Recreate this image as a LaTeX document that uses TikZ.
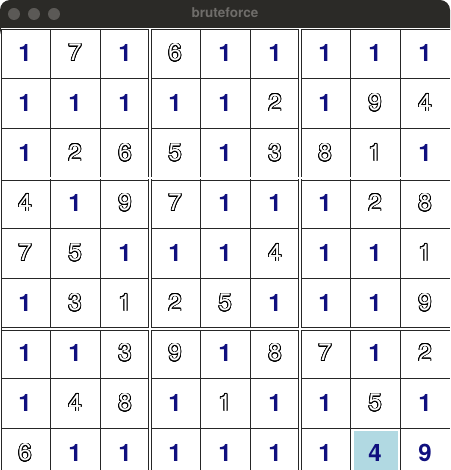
\documentclass[tikz,border=0pt]{standalone}
\usepackage{fontspec}
\setmainfont{TeX Gyre Heros}
\usepackage{contour}
\contourlength{0.75pt}
\contournumber{24}

\definecolor{barcol}{HTML}{2B2A27}
\definecolor{dotcol}{HTML}{5B5956}
\definecolor{titlecol}{HTML}{6F6D6A}
\definecolor{numblue}{HTML}{10107F}
\definecolor{pickcol}{HTML}{B1D9E2}

\newcommand{\hollow}[1]{\contour{black}{\textcolor{white}{#1}}}

\begin{document}
\begin{tikzpicture}[x=1pt, y=-1pt]
\tikzset{ inner sep=0pt, outer sep=0pt,
  fixed/.style={font=\fontsize{24}{24}\selectfont\bfseries, text=numblue},
  guess/.style={font=\fontsize{24}{24}\selectfont},
  gridline/.style={line width=0.9pt, black!85},
}

\useasboundingbox [fill=white] (0,0) rectangle (450,470);

% barra de titulo
\fill [barcol, rounded corners=10pt] (0,0) rectangle (450,40);
\fill [barcol] (0,20) rectangle (450,28);
\fill [white] (1.3,28) rectangle (450,470);
\fill [dotcol] (14,14) circle (6);
\fill [dotcol] (34,14) circle (6);
\fill [dotcol] (54,14) circle (6);
\node [font=\fontsize{13.5}{13.5}\selectfont\bfseries, text=titlecol] (title) at (225,13) {bruteforce};

% celula escolhida
\fill [pickcol] (354,431) rectangle (398,470);

% linhas finas
\draw [gridline] (1.8,29) -- (450,29);
\draw [gridline] (1.8,29) -- (1.8,470);
\draw [gridline] (50,29) -- (50,470);
\draw [gridline] (100,29) -- (100,470);
\draw [gridline] (200,29) -- (200,470);
\draw [gridline] (250,29) -- (250,470);
\draw [gridline] (350,29) -- (350,470);
\draw [gridline] (400,29) -- (400,470);
\draw [gridline] (1.8,78) -- (450,78);
\draw [gridline] (1.8,128) -- (450,128);
\draw [gridline] (1.8,228) -- (450,228);
\draw [gridline] (1.8,278) -- (450,278);
\draw [gridline] (1.8,378) -- (450,378);
\draw [gridline] (1.8,428) -- (450,428);

% linhas duplas dos blocos
\draw [gridline] (148.5,29) -- (148.5,470);
\draw [gridline] (151.5,29) -- (151.5,470);
\draw [gridline] (298.5,29) -- (298.5,470);
\draw [gridline] (301.5,29) -- (301.5,470);
\draw [gridline] (1.8,177) -- (450,177);
\draw [gridline] (1.8,180) -- (450,180);
\draw [gridline] (1.8,327) -- (450,327);
\draw [gridline] (1.8,330) -- (450,330);
\draw [white, line width=2pt] (150,29.5) -- (150,470);
\draw [white, line width=2pt] (300,29.5) -- (300,470);
\draw [white, line width=2pt] (2.3,178.5) -- (450,178.5);
\draw [white, line width=2pt] (2.3,328.5) -- (450,328.5);

% linha A
\node [fixed] (A1) at (25,53) {1};
\node [guess] (A2) at (75,53) {\hollow{7}};
\node [fixed] (A3) at (125,53) {1};
\node [guess] (A4) at (175,53) {\hollow{6}};
\node [fixed] (A5) at (225,53) {1};
\node [fixed] (A6) at (275,53) {1};
\node [fixed] (A7) at (325,53) {1};
\node [fixed] (A8) at (375,53) {1};
\node [fixed] (A9) at (425,53) {1};

% linha B
\node [fixed] (B1) at (25,103) {1};
\node [fixed] (B2) at (75,103) {1};
\node [fixed] (B3) at (125,103) {1};
\node [fixed] (B4) at (175,103) {1};
\node [fixed] (B5) at (225,103) {1};
\node [guess] (B6) at (275,103) {\hollow{2}};
\node [fixed] (B7) at (325,103) {1};
\node [guess] (B8) at (375,103) {\hollow{9}};
\node [guess] (B9) at (425,103) {\hollow{4}};

% linha C
\node [fixed] (C1) at (25,153) {1};
\node [guess] (C2) at (75,153) {\hollow{2}};
\node [guess] (C3) at (125,153) {\hollow{6}};
\node [guess] (C4) at (175,153) {\hollow{5}};
\node [fixed] (C5) at (225,153) {1};
\node [guess] (C6) at (275,153) {\hollow{3}};
\node [guess] (C7) at (325,153) {\hollow{8}};
\node [guess] (C8) at (375,153) {\hollow{1}};
\node [fixed] (C9) at (425,153) {1};

% linha D
\node [guess] (D1) at (25,203) {\hollow{4}};
\node [fixed] (D2) at (75,203) {1};
\node [guess] (D3) at (125,203) {\hollow{9}};
\node [guess] (D4) at (175,203) {\hollow{7}};
\node [fixed] (D5) at (225,203) {1};
\node [fixed] (D6) at (275,203) {1};
\node [fixed] (D7) at (325,203) {1};
\node [guess] (D8) at (375,203) {\hollow{2}};
\node [guess] (D9) at (425,203) {\hollow{8}};

% linha E
\node [guess] (E1) at (25,253) {\hollow{7}};
\node [guess] (E2) at (75,253) {\hollow{5}};
\node [fixed] (E3) at (125,253) {1};
\node [fixed] (E4) at (175,253) {1};
\node [fixed] (E5) at (225,253) {1};
\node [guess] (E6) at (275,253) {\hollow{4}};
\node [fixed] (E7) at (325,253) {1};
\node [fixed] (E8) at (375,253) {1};
\node [guess] (E9) at (425,253) {\hollow{1}};

% linha F
\node [fixed] (F1) at (25,303) {1};
\node [guess] (F2) at (75,303) {\hollow{3}};
\node [guess] (F3) at (125,303) {\hollow{1}};
\node [guess] (F4) at (175,303) {\hollow{2}};
\node [guess] (F5) at (225,303) {\hollow{5}};
\node [fixed] (F6) at (275,303) {1};
\node [fixed] (F7) at (325,303) {1};
\node [fixed] (F8) at (375,303) {1};
\node [guess] (F9) at (425,303) {\hollow{9}};

% linha G
\node [fixed] (G1) at (25,353) {1};
\node [fixed] (G2) at (75,353) {1};
\node [guess] (G3) at (125,353) {\hollow{3}};
\node [guess] (G4) at (175,353) {\hollow{9}};
\node [fixed] (G5) at (225,353) {1};
\node [guess] (G6) at (275,353) {\hollow{8}};
\node [guess] (G7) at (325,353) {\hollow{7}};
\node [fixed] (G8) at (375,353) {1};
\node [guess] (G9) at (425,353) {\hollow{2}};

% linha H
\node [fixed] (H1) at (25,403) {1};
\node [guess] (H2) at (75,403) {\hollow{4}};
\node [guess] (H3) at (125,403) {\hollow{8}};
\node [fixed] (H4) at (175,403) {1};
\node [guess] (H5) at (225,403) {\hollow{1}};
\node [fixed] (H6) at (275,403) {1};
\node [fixed] (H7) at (325,403) {1};
\node [guess] (H8) at (375,403) {\hollow{5}};
\node [fixed] (H9) at (425,403) {1};

% linha I
\node [guess] (I1) at (25,453) {\hollow{6}};
\node [fixed] (I2) at (75,453) {1};
\node [fixed] (I3) at (125,453) {1};
\node [fixed] (I4) at (175,453) {1};
\node [fixed] (I5) at (225,453) {1};
\node [fixed] (I6) at (275,453) {1};
\node [fixed] (I7) at (325,453) {1};
\node [fixed] (I8) at (375,453) {4};
\node [fixed] (I9) at (425,453) {9};

\end{tikzpicture}
\end{document}
